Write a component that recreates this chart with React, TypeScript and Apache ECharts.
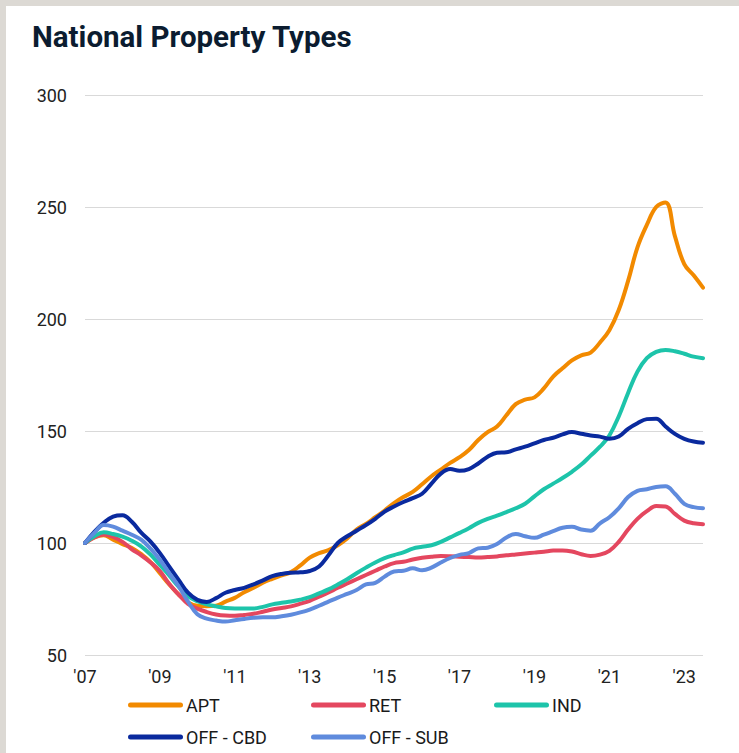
import React, { useEffect, useRef } from "react";
import * as echarts from "echarts";

const TITLE = "National Property Types";
const START_YEAR = 2007;
const SERIES_NAMES = ["APT", "RET", "IND", "OFF - CBD", "OFF - SUB"];
const COLORS = ["#F28A00", "#E4475F", "#1DC4AA", "#0A2A9E", "#5F8BDD"];

// Quarterly index values, 2007 Q1 .. 2023 Q3
const APT = [
  100, 102.5, 103.5, 101.5, 99.5, 97.8, 95, 91.5, 86.5, 81.5, 77, 73.5, 72, 71.8, 72, 73.8,
  75.5, 78, 80, 82.3, 84, 85.5, 87, 90, 93.5, 95.5, 96.8, 99, 102, 106, 108.5, 111.5,
  114.5, 117.8, 120.5, 122.8, 126.2, 129.8, 132.8, 135.8, 138.3, 141.5, 146, 149.5, 152, 157, 162, 164,
  165, 169, 174.3, 178, 181.5, 183.8, 185, 189.5, 195, 204, 217, 232, 242, 250, 252, 237,
  224.5, 219.5, 214,
];
const RET = [
  100, 102.5, 103.8, 102.7, 100.5, 97.2, 94.5, 91.3, 87.5, 81.7, 77, 72.8, 70.7, 69.2, 68.1, 67.6,
  67.5, 67.9, 68.4, 69.3, 70.3, 71, 71.7, 72.9, 74.2, 76, 77.9, 80, 81.9, 83.8, 85.7, 87.6,
  89.5, 91, 91.6, 92.6, 93.4, 93.9, 94.2, 94.1, 93.9, 93.7, 93.5, 93.7, 94, 94.5, 94.9, 95.3,
  95.7, 96.1, 96.6, 96.7, 96.2, 95, 94.2, 94.8, 96.5, 100.5, 106, 110.8, 114.2, 116.5, 116.3, 113,
  110, 108.8, 108.4,
];
const IND = [
  100, 103, 104.8, 104, 102.8, 101, 98.5, 94.8, 90.2, 85.5, 80.5, 76.3, 74, 72.6, 71.7, 71,
  70.8, 70.8, 70.8, 71.5, 72.6, 73.3, 73.9, 74.7, 75.8, 77.5, 79.3, 81.5, 83.8, 86.5, 89, 91.3,
  93.2, 94.6, 95.8, 97.5, 98.3, 99, 100.5, 102.5, 104.5, 106.6, 109, 110.8, 112.2, 113.8, 115.5, 117.5,
  120.8, 124, 126.5, 129, 131.8, 135, 139, 143, 148, 156.5, 167, 176.5, 182.5, 185.3, 186.2, 185.6,
  184.5, 183.2, 182.5,
];
const OFF_CBD = [
  100, 105, 109, 111.8, 112.4, 109.5, 104.6, 100.6, 95.5, 89.4, 83.5, 77.8, 74.6, 73.7, 75.4, 77.8,
  79, 80, 81.5, 83.3, 85.2, 86.2, 86.7, 86.9, 87.5, 89.5, 94.5, 100, 103, 105.5, 108, 110.8,
  114, 116.3, 118.3, 120, 122, 126.5, 131, 133, 132.2, 133, 135.5, 138.5, 140.3, 140.5, 141.8, 143,
  144.5, 146, 147, 148.5, 149.5, 148.8, 148, 147.5, 146.5, 147.5, 151, 153.5, 155.3, 155.5, 152, 148.7,
  146.5, 145.3, 144.8,
];
const OFF_SUB = [
  100, 104.5, 108, 107.3, 105.5, 103.7, 101.5, 97.5, 92.5, 86.5, 80.7, 73.8, 68.2, 66.2, 65.4, 64.9,
  65.5, 66.1, 66.6, 66.8, 66.8, 67.3, 68, 69, 70.3, 72, 73.8, 75.6, 77.3, 79, 81.5, 82.2,
  85, 87.3, 87.6, 88.7, 87.8, 89, 91.3, 93.3, 94.7, 95.5, 97.6, 97.9, 99.5, 102.5, 104, 103,
  102.3, 103.7, 105.3, 106.8, 107.2, 106, 105.5, 108.8, 111.5, 115.5, 120.5, 123.3, 124, 125, 125.3, 122,
  117.5, 116, 115.5,
];
const SERIES_VALUES = [APT, RET, IND, OFF_CBD, OFF_SUB];

const Y_MIN = 50;
const Y_MAX = 300;
const Y_STEP = 50;

const QUARTERS: string[] = APT.map(
  (_, i) => `${START_YEAR + Math.floor(i / 4)} Q${(i % 4) + 1}`
);

const LEGEND_POS = [
  { left: 128, top: 696 },
  { left: 311, top: 696 },
  { left: 494, top: 696 },
  { left: 128, top: 728 },
  { left: 311, top: 728 },
];

const CAPSULE = "path://M2.5,0 L52.5,0 A2.5,2.5 0 0 1 52.5,5 L2.5,5 A2.5,2.5 0 0 1 2.5,0 Z";

export default function App() {
  const ref = useRef<HTMLDivElement>(null);

  useEffect(() => {
    if (!ref.current) return;
    const chart = echarts.init(ref.current, undefined, { renderer: "svg" });
    const font = "Roboto, 'Noto Sans', sans-serif";
    chart.setOption({
      animation: false,
      backgroundColor: "#ffffff",
      textStyle: { fontFamily: font },
      title: {
        text: TITLE,
        left: 32,
        top: 22,
        padding: 0,
        textStyle: {
          fontFamily: font,
          fontSize: 29.5,
          fontWeight: "bold",
          color: "#0b1c30",
        },
      },
      graphic: [
        {
          type: "rect",
          left: 0,
          top: 0,
          shape: { width: 6, height: 753 },
          style: { fill: "#dcd9d4" },
          z: 100,
        },
        {
          type: "rect",
          left: 0,
          top: 0,
          shape: { width: 739, height: 6 },
          style: { fill: "#dcd9d4" },
          z: 100,
        },
      ],
      legend: SERIES_NAMES.map((name, i) => ({
        data: [name],
        left: LEGEND_POS[i].left,
        top: LEGEND_POS[i].top,
        padding: 0,
        itemWidth: 55,
        itemHeight: 5,
        icon: CAPSULE,
        selectedMode: false,
        textStyle: { fontFamily: font, fontSize: 18, color: "#1a1a1a", padding: [0, 0, 0, -2] },
      })),
      grid: { left: 85, right: 36, top: 95, bottom: 98, containLabel: false },
      xAxis: {
        type: "category",
        data: QUARTERS,
        boundaryGap: false,
        axisLine: { show: false },
        axisTick: { show: false },
        splitLine: { show: false },
        axisLabel: {
          interval: 7,
          margin: 12,
          fontSize: 18,
          fontFamily: font,
          color: "#222222",
          formatter: (v: string) => "'" + v.slice(2, 4),
        },
      },
      yAxis: {
        type: "value",
        min: Y_MIN,
        max: Y_MAX,
        interval: Y_STEP,
        axisLine: { show: false },
        axisTick: { show: false },
        splitLine: { lineStyle: { color: "#d9d9d9", width: 1 } },
        axisLabel: {
          margin: 18,
          fontSize: 18,
          fontFamily: font,
          color: "#222222",
        },
      },
      series: SERIES_NAMES.map((name, i) => ({
        name,
        type: "line",
        data: SERIES_VALUES[i],
        smooth: 0.4,
        showSymbol: false,
        symbol: "none",
        color: COLORS[i],
        lineStyle: { width: 4, color: COLORS[i], cap: "round", join: "round" },
      })),
    });
    return () => chart.dispose();
  }, []);

  return (
    <div
      ref={ref}
      style={{ position: "absolute", left: 0, top: 0, width: 739, height: 753 }}
    />
  );
}
